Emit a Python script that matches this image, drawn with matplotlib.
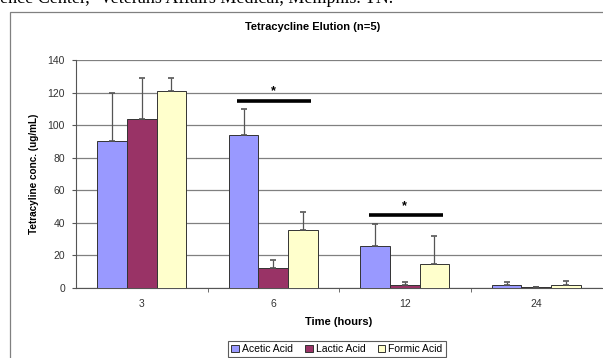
import matplotlib
matplotlib.use('Agg')
import matplotlib.pyplot as plt
from matplotlib.patches import Rectangle
import numpy as np

# datos
times = ['3', '6', '12', '24']
acetic = [90, 94, 26, 1.8]
lactic = [104, 12, 1.6, 0.5]
formic = [121, 35.5, 15, 1.8]
acetic_err = [29.5, 16, 13, 1.9]
lactic_err = [25, 5.5, 2.1, 0.3]
formic_err = [8, 11, 17, 2.2]
series = ['Acetic Acid', 'Lactic Acid', 'Formic Acid']
colors = ['#9999FF', '#993366', '#FFFFCC']

# marcas de significancia: (grupo, altura linea, altura estrella)
sig_groups = [1, 2]
sig_line = [115, 45]
sig_star = [121, 50]

plt.rcParams['font.family'] = ['Liberation Sans', 'DejaVu Sans']

fig = plt.figure(figsize=(6.03, 3.58), dpi=100)

# linea de texto del documento, cortada arriba
fig.text(0.0, 0.992, 'ence Center, \u00b2Veterans Affairs Medical, Memphis. TN.',
         family='Liberation Serif', fontsize=13, va='baseline', ha='left')

# marco del grafico
fig.patches.append(Rectangle((10 / 603, -0.05), 1.0, 1 - 12 / 358 + 0.05,
                             transform=fig.transFigure, facecolor='none',
                             edgecolor='#808080', linewidth=0.9, zorder=-1))

ax = fig.add_axes([76 / 603, 1 - 288 / 358, 526 / 603, 228 / 358])
ax.set_facecolor('white')

x = np.arange(len(times))
w = 0.225
data = [acetic, lactic, formic]
errs = [acetic_err, lactic_err, formic_err]
for i in range(3):
    pos = x + (i - 1) * w
    ax.bar(pos, data[i], w, color=colors[i], edgecolor='#333333', linewidth=0.7,
           label=series[i], zorder=3)
    ax.errorbar(pos, data[i], yerr=[np.zeros(len(times)), errs[i]], fmt='none',
                ecolor='#555555', elinewidth=0.9, capsize=2.5, capthick=1.2, zorder=4)

for g, yl, ys in zip(sig_groups, sig_line, sig_star):
    ax.plot([g - 0.275, g + 0.29], [yl, yl], color='black', linewidth=2.6,
            solid_capstyle='butt', zorder=5)
    ax.text(g, ys, '*', ha='center', va='center', fontsize=9, fontweight='bold')

ax.set_xlim(-0.5, 3.5)
ax.set_ylim(0, 140)
ax.set_yticks(range(0, 141, 20))
ax.set_xticks(x)
ax.set_xticklabels(times)
ax.set_xticks([0.5, 1.5, 2.5], minor=True)
ax.tick_params(axis='x', which='major', length=0, pad=8, labelsize=7.5, colors='#333333')
ax.tick_params(axis='x', which='minor', length=3, color='#555555')
ax.tick_params(axis='y', length=3, labelsize=7.5, colors='#333333', color='#555555', pad=5)
ax.grid(axis='y', color='#808080', linewidth=0.9, zorder=0)
for s in ['top', 'right']:
    ax.spines[s].set_visible(False)
ax.spines['left'].set_color('#555555')
ax.spines['bottom'].set_color('#555555')

ax.set_ylabel('Tetracyline conc. (ug/mL)', fontsize=7.2, fontweight='bold', labelpad=6)
ax.set_xlabel('Time (hours)', fontsize=8, fontweight='bold', labelpad=6)
fig.text(313 / 603, 1 - 27 / 358, 'Tetracycline Elution (n=5)', ha='center', va='center',
         fontsize=8, fontweight='bold')

leg = fig.legend(loc='center', bbox_to_anchor=(337 / 603, 1 - 349 / 358), ncol=3,
                 fontsize=7.5, frameon=True, fancybox=False, edgecolor='#333333',
                 handlelength=0.7, handleheight=0.7, handletextpad=0.3,
                 columnspacing=1.2, borderpad=0.3, borderaxespad=0)
leg.get_frame().set_linewidth(0.8)

fig.savefig('out.png', dpi=100)
